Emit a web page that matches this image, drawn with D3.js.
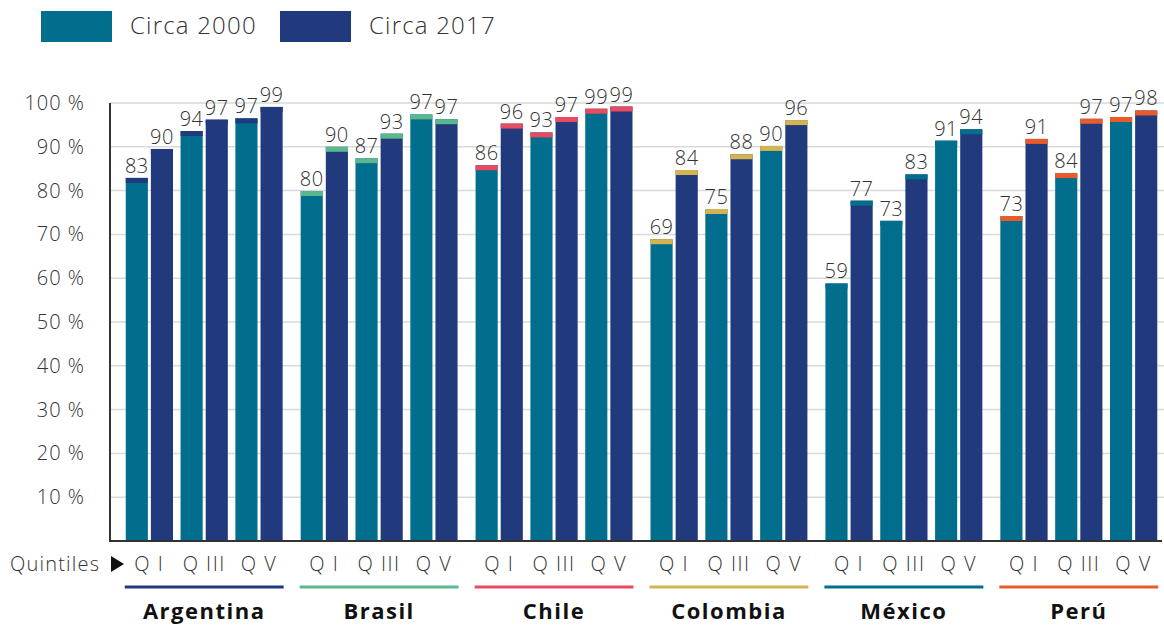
<!DOCTYPE html>
<html>
<head>
<meta charset="utf-8">
<script src="https://cdn.jsdelivr.net/npm/d3@7"></script>
<style>
  body { margin: 0; background: #fff; }
  text { font-family: "Open Sans", "DejaVu Sans", sans-serif; }
</style>
</head>
<body>
<div id="chart"></div>
<script>
const countries = ['Argentina', 'Brasil', 'Chile', 'Colombia', 'México', 'Perú'];
const quintiles = ['Q I', 'Q III', 'Q V'];
const series = ['Circa 2000', 'Circa 2017'];
const countryColors = ['#213a7d', '#5bb88e', '#e84a5f', '#d4b452', '#006e8c', '#ea5b2b'];
const seriesColors = ['#006e8c', '#213a7d'];

// bar heights per country, Q I / Q III / Q V
const values2000 = [
  [82.9, 93.6, 96.5],
  [79.9, 87.4, 97.4],
  [85.8, 93.3, 98.7],
  [68.9, 75.8, 90.2],
  [58.8, 73.1, 91.4],
  [74.2, 84.0, 96.8]
];
const values2017 = [
  [89.5, 96.2, 99.1],
  [90.0, 93.0, 96.3],
  [95.3, 96.8, 99.2],
  [84.7, 88.3, 96.1],
  [77.7, 83.7, 94.0],
  [91.8, 96.4, 98.3]
];
// printed labels
const labels2000 = [
  [83, 94, 97], [80, 87, 97], [86, 93, 99], [69, 75, 90], [59, 73, 91], [73, 84, 97]
];
const labels2017 = [
  [90, 97, 99], [90, 93, 97], [96, 97, 99], [84, 88, 96], [77, 83, 94], [91, 97, 98]
];
const yTicks = [10, 20, 30, 40, 50, 60, 70, 80, 90, 100];

const width = 1164, height = 625;
const svg = d3.select('#chart').append('svg')
  .attr('width', width)
  .attr('height', height);

const y = d3.scaleLinear().domain([0, 100]).range([541, 103]);
const x0 = d3.scaleBand().domain(countries).range([117, 1166])
  .paddingInner(0.103).paddingOuter(0.05);
const x1 = d3.scaleBand().domain(quintiles).range([0, x0.bandwidth()])
  .paddingInner(0.138);
const x2 = d3.scaleBand().domain(series).range([0, x1.bandwidth()])
  .paddingInner(0.12);

// gridlines
svg.append('g')
  .selectAll('line')
  .data(yTicks)
  .join('line')
  .attr('x1', 110).attr('x2', width)
  .attr('y1', d => y(d)).attr('y2', d => y(d))
  .attr('stroke', '#d9d9d9').attr('stroke-width', 1.5);

// y axis
const yAxis = svg.append('g')
  .attr('transform', 'translate(110,0)')
  .call(d3.axisLeft(y).tickValues(yTicks).tickSize(0).tickPadding(25)
    .tickFormat(d => d + ' %'));
yAxis.select('.domain').remove();
yAxis.selectAll('text')
  .attr('fill', '#333')
  .style('font-size', '20px')
  .style('letter-spacing', '1px')
  .style('font-weight', 300);

// bars
const rows = [];
countries.forEach((c, ci) => {
  quintiles.forEach((q, qi) => {
    rows.push({ c, ci, q, s: series[0], si: 0, v: values2000[ci][qi], label: labels2000[ci][qi] });
    rows.push({ c, ci, q, s: series[1], si: 1, v: values2017[ci][qi], label: labels2017[ci][qi] });
  });
});
const barX = d => x0(d.c) + x1(d.q) + x2(d.s);

const bars = svg.append('g');
bars.selectAll('rect.bar')
  .data(rows)
  .join('rect')
  .attr('class', 'bar')
  .attr('x', barX)
  .attr('y', d => y(d.v))
  .attr('width', x2.bandwidth())
  .attr('height', d => y(0) - y(d.v))
  .attr('fill', d => seriesColors[d.si]);

bars.selectAll('rect.cap')
  .data(rows)
  .join('rect')
  .attr('class', 'cap')
  .attr('x', barX)
  .attr('y', d => y(d.v))
  .attr('width', x2.bandwidth())
  .attr('height', 5)
  .attr('fill', d => countryColors[d.ci]);

bars.selectAll('text')
  .data(rows)
  .join('text')
  .attr('x', d => barX(d) + x2.bandwidth() / 2)
  .attr('y', d => y(d.v) - 5)
  .attr('text-anchor', 'middle')
  .attr('fill', '#333')
  .style('font-size', '20px')
  .style('letter-spacing', '0.5px')
  .style('font-weight', 300)
  .text(d => d.label);

// y axis line and baseline
svg.append('line')
  .attr('x1', 110).attr('x2', 110).attr('y1', y(100)).attr('y2', y(0) + 1)
  .attr('stroke', '#333').attr('stroke-width', 2);
svg.append('line')
  .attr('x1', 109).attr('x2', 1162).attr('y1', y(0)).attr('y2', y(0))
  .attr('stroke', '#333').attr('stroke-width', 2);

// quintile row
svg.append('text')
  .attr('x', 10).attr('y', 571)
  .attr('fill', '#333')
  .style('font-size', '20px').style('font-weight', 300)
  .style('letter-spacing', '1.2px')
  .text('Quintiles');
svg.append('path')
  .attr('d', 'M111,556 L124,564 L111,572 Z')
  .attr('fill', '#111');

const groups = svg.append('g').selectAll('g')
  .data(countries)
  .join('g')
  .attr('transform', d => `translate(${x0(d)},0)`);

groups.selectAll('text.q')
  .data(quintiles)
  .join('text')
  .attr('class', 'q')
  .attr('x', q => x1(q) + x1.bandwidth() / 2)
  .attr('y', 571)
  .attr('text-anchor', 'middle')
  .attr('fill', '#333')
  .style('font-size', '20px').style('font-weight', 300)
  .style('letter-spacing', '1.5px')
  .text(q => q);

groups.append('line')
  .attr('x1', -1).attr('x2', x0.bandwidth() + 1)
  .attr('y1', 587).attr('y2', 587)
  .attr('stroke', (d, i) => countryColors[i])
  .attr('stroke-width', 3);

groups.append('text')
  .attr('x', x0.bandwidth() / 2)
  .attr('y', 619)
  .attr('text-anchor', 'middle')
  .attr('fill', '#111')
  .style('font-size', '22px').style('font-weight', 700)
  .style('letter-spacing', '1.5px')
  .text(d => d);

// legend
const legend = svg.append('g');
const legendX = [41, 280];
series.forEach((s, i) => {
  legend.append('rect')
    .attr('x', legendX[i]).attr('y', 11)
    .attr('width', 71).attr('height', 31)
    .attr('fill', seriesColors[i]);
  legend.append('text')
    .attr('x', legendX[i] + 89).attr('y', 34)
    .attr('fill', '#333')
    .style('font-size', '24px').style('font-weight', 300)
    .style('letter-spacing', '1.2px')
    .text(s);
});
</script>
</body>
</html>
